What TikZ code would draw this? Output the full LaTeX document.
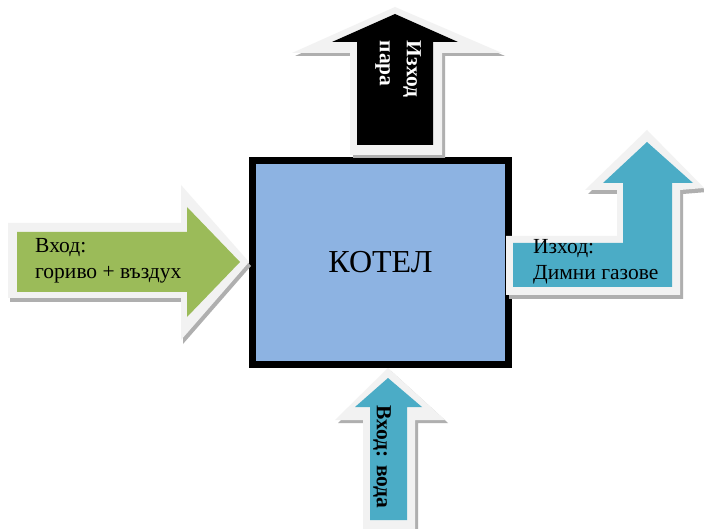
\documentclass[tikz,border=0pt]{standalone}
\usepackage{fontspec}
\setmainfont{Liberation Serif}
\definecolor{boxblue}{HTML}{8DB3E2}
\definecolor{agreen}{HTML}{9BBB59}
\definecolor{ateal}{HTML}{4BACC6}
\definecolor{aglow}{HTML}{F2F2F2}
\definecolor{ashadow}{HTML}{AFAFAF}
\begin{document}
\begin{tikzpicture}[x=1pt,y=-1pt,
  glow/.style={fill=aglow},
  shade/.style={fill=ashadow},
  boxstyle/.style={draw=black,line width=7pt,fill=boxblue,minimum width=256pt,minimum height=204pt,inner sep=0pt,font=\fontsize{32}{36}\selectfont},
  lbl/.style={inner sep=0pt,align=left,font=\fontsize{21.5}{26}\selectfont},
  vlbl/.style={inner sep=0pt,align=left,rotate=-90,font=\bfseries\fontsize{21.5}{27}\selectfont}]
\useasboundingbox (0,0) rectangle (704,529);
\fill[white] (0,0) rectangle (704,529);

% boiler
\node[boxstyle] (kotel) at (380.5,262.5) {КОТЕЛ};

% top arrow (steam out)
\fill[shade,shift={(3,3)}] (350,155) -- (350,53) -- (292,53) -- (395,7) -- (502,53) -- (442,53) -- (442,155) -- cycle;
\fill[glow] (350,155) -- (350,53) -- (292,53) -- (395,7) -- (502,53) -- (442,53) -- (442,155) -- cycle;
\fill[black] (357,145) -- (357,42) -- (332,42) -- (395,14) -- (458,42) -- (433,42) -- (433,145) -- cycle;
\node[vlbl,text=white] (steam) at (398,69) {Изход\\пара};

% left arrow (fuel + air in)
\fill[shade,shift={(2,4)}] (8,223) -- (181,223) -- (181,185) -- (249,262) -- (181,340) -- (181,298) -- (8,298) -- cycle;
\fill[glow] (8,223) -- (181,223) -- (181,185) -- (249,262) -- (181,340) -- (181,298) -- (8,298) -- cycle;
\fill[agreen] (17,232) -- (187,232) -- (187,207) -- (240,262) -- (187,317) -- (187,292) -- (17,292) -- cycle;
\node[lbl,anchor=west] (fuel) at (35,261) {Вход:\\гориво + въздух};

% right bent arrow (flue gases out)
\fill[shade,shift={(3,4)}] (506,236) -- (617,236) -- (617,190) -- (585,190) -- (647,130) -- (704,188) -- (680,190) -- (680,295) -- (506,295) -- cycle;
\fill[glow] (506,236) -- (617,236) -- (617,190) -- (585,190) -- (647,130) -- (704,188) -- (680,190) -- (680,295) -- (506,295) -- cycle;
\fill[ateal] (513,243) -- (623,243) -- (623,183) -- (603,183) -- (647,142) -- (693,183) -- (672,183) -- (672,287) -- (513,287) -- cycle;
\node[lbl,anchor=west] (gas) at (533,262) {Изход:\\Димни газове};

% bottom arrow (water in)
\fill[shade,shift={(3,3)}] (363,529) -- (363,420) -- (335,420) -- (388,368) -- (445,420) -- (415,420) -- (415,529) -- cycle;
\fill[glow] (363,529) -- (363,420) -- (335,420) -- (388,368) -- (445,420) -- (415,420) -- (415,529) -- cycle;
\fill[ateal] (370,520) -- (370,407) -- (355,407) -- (388,378) -- (422,407) -- (407,407) -- (407,520) -- cycle;
\node[vlbl] (water) at (382,457) {Вход: вода};
\end{tikzpicture}
\end{document}
